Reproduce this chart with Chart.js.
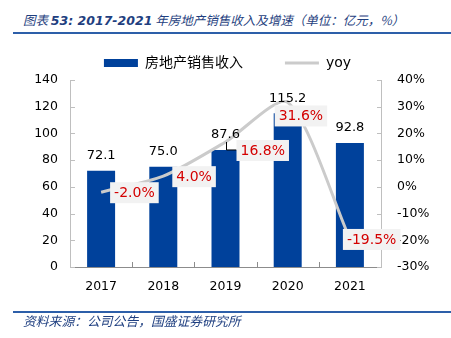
<!DOCTYPE html>
<html>
<head>
<meta charset="utf-8">
<script src="https://cdn.jsdelivr.net/npm/chart.js@4/dist/chart.umd.min.js"></script>
<style>
html,body{margin:0;padding:0;background:#fff;}
#wrap{position:relative;width:451px;height:338px;overflow:hidden;background:#fff;}
#title{position:absolute;left:23px;top:11px;font-style:italic;font-size:12.5px;font-family:"Noto Sans CJK SC";color:#1f3f80;white-space:nowrap;line-height:18px;}
#title b{font-family:"DejaVu Sans";font-weight:bold;font-size:12.5px;}
.rule{position:absolute;left:13px;width:438px;height:2px;background:#2d5fa9;}
#foot{position:absolute;left:23px;top:312px;font-style:italic;font-size:12.8px;font-family:"Noto Sans CJK SC";color:#1f3f80;white-space:nowrap;line-height:18px;}
canvas{position:absolute;left:0;top:0;}
</style>
</head>
<body>
<div id="wrap">
  <div id="title">图表 <b>53: 2017-2021</b> 年房地产销售收入及增速（单位：亿元，%）</div>
  <div class="rule" style="top:32px"></div>
  <canvas id="c" width="451" height="338"></canvas>
  <div class="rule" style="top:311px"></div>
  <div id="foot">资料来源：公司公告，国盛证券研究所</div>
</div>
<script>
// ---- data ----
const categories = ['2017', '2018', '2019', '2020', '2021'];
const revenue = [72.1, 75.0, 87.6, 115.2, 92.8];
const yoy = [-2.0, 4.0, 16.8, 31.6, -19.5];
const seriesNames = ['房地产销售收入', 'yoy'];
const leftAxis = { min: 0, max: 140, step: 20 };
const rightAxis = { min: -30, max: 40, step: 10 };

// ---- styles (label placement relative to point) ----
const yoyLabelOffsets = [[13, 0], [13, 0], [15, 8], [-9, 13], [-3, 0]];
const yoyLeader = [false, false, true, false, false];

const FONT = '"DejaVu Sans", "Noto Sans CJK SC", sans-serif';

const insideTicks = {
  id: 'insideTicks',
  beforeDatasetsDraw(chart) {
    const ctx = chart.ctx, a = chart.chartArea;
    const y = chart.scales.y, y1 = chart.scales.y1, x = chart.scales.x;
    ctx.save();
    ctx.lineWidth = 1;
    ctx.strokeStyle = '#bfbfbf';
    y.ticks.forEach(t => {
      const py = Math.round(y.getPixelForValue(t.value)) + 0.5;
      ctx.beginPath(); ctx.moveTo(a.left, py); ctx.lineTo(a.left + 5, py); ctx.stroke();
    });
    y1.ticks.forEach(t => {
      const py = Math.round(y1.getPixelForValue(t.value)) + 0.5;
      ctx.beginPath(); ctx.moveTo(a.right - 4, py); ctx.lineTo(a.right, py); ctx.stroke();
    });
    ctx.strokeStyle = '#8c8c8c';
    for (let i = 0; i < categories.length - 1; i++) {
      const px = Math.round((x.getPixelForValue(i) + x.getPixelForValue(i + 1)) / 2) + 0.5;
      ctx.beginPath(); ctx.moveTo(px, a.bottom); ctx.lineTo(px, a.bottom - 5); ctx.stroke();
    }
    ctx.restore();
  }
};

const valueLabels = {
  id: 'valueLabels',
  afterDatasetsDraw(chart) {
    const ctx = chart.ctx;
    const barMeta = chart.getDatasetMeta(0), lineMeta = chart.getDatasetMeta(1);
    ctx.save();
    ctx.textBaseline = 'middle';
    ctx.textAlign = 'center';
    ctx.fillStyle = '#000';
    ctx.font = '13px ' + FONT;
    barMeta.data.forEach((bar, i) => {
      ctx.fillText(revenue[i].toFixed(1), bar.x, bar.y - 15);
    });
    ctx.font = '14px ' + FONT;
    ctx.textAlign = 'left';
    lineMeta.data.forEach((pt, i) => {
      const [dx, dy] = yoyLabelOffsets[i];
      const txt = yoy[i].toFixed(1) + '%';
      const w = ctx.measureText(txt).width;
      const lx = pt.x + dx, ly = pt.y + dy;
      if (yoyLeader[i]) {
        ctx.strokeStyle = '#000'; ctx.lineWidth = 1;
        ctx.beginPath();
        ctx.moveTo(Math.round(pt.x) + 0.5, pt.y);
        ctx.lineTo(Math.round(pt.x) + 0.5, ly);
        ctx.lineTo(lx - 4, ly);
        ctx.stroke();
      }
      ctx.fillStyle = '#f2f2f2';
      ctx.fillRect(lx - 4, ly - 10, w + 8, 21);
      ctx.fillStyle = '#d40000';
      ctx.fillText(txt, lx, ly + 1);
    });
    ctx.restore();
  }
};

new Chart(document.getElementById('c'), {
  data: {
    labels: categories,
    datasets: [
      {
        type: 'bar', label: seriesNames[0], data: revenue, yAxisID: 'y',
        backgroundColor: '#00419b', borderWidth: 0, order: 1,
        barPercentage: 0.9, categoryPercentage: 0.5
      },
      {
        type: 'line', label: seriesNames[1], data: yoy, yAxisID: 'y1',
        borderColor: '#cbcbcb', backgroundColor: '#cbcbcb', borderWidth: 3,
        pointRadius: 0, tension: 0.25, order: 0, pointStyle: 'line'
      }
    ]
  },
  options: {
    responsive: false, animation: false,
    layout: { padding: { top: 14, bottom: 0, left: 4, right: 0 } },
    plugins: {
      tooltip: { enabled: false },
      legend: {
        position: 'top',
        labels: {
          usePointStyle: true, pointStyleWidth: 34, boxHeight: 8, padding: 42,
          font: { size: 14, family: FONT }, color: '#000',
          sort: (a, b) => a.datasetIndex - b.datasetIndex,
          generateLabels(chart) {
            const items = Chart.defaults.plugins.legend.labels.generateLabels(chart);
            items.forEach(it => {
              it.pointStyle = it.datasetIndex === 0 ? 'rect' : 'line';
              if (it.datasetIndex === 0) { it.lineWidth = 0; it.strokeStyle = 'rgba(0,0,0,0)'; }
            });
            return items;
          }
        }
      }
    },
    scales: {
      x: {
        grid: { display: false, drawTicks: false },
        border: { color: '#8c8c8c', width: 1 },
        ticks: { padding: 12, color: '#000', font: { size: 12.5, family: FONT } },
        afterFit: s => { s.height = 71; }
      },
      y: {
        position: 'left', min: leftAxis.min, max: leftAxis.max,
        grid: { display: false, drawTicks: false },
        border: { color: '#bfbfbf', width: 1 },
        ticks: { stepSize: leftAxis.step, padding: 12, color: '#000', font: { size: 12.5, family: FONT } },
        afterFit: s => { s.width = 66; }
      },
      y1: {
        position: 'right', min: rightAxis.min, max: rightAxis.max,
        grid: { display: false, drawTicks: false },
        border: { color: '#bfbfbf', width: 1 },
        ticks: { stepSize: rightAxis.step, padding: 16, color: '#000', font: { size: 12.5, family: FONT },
          callback: v => v + '%' },
        afterFit: s => { s.width = 70; }
      }
    }
  },
  plugins: [insideTicks, valueLabels]
});
</script>
</body>
</html>
